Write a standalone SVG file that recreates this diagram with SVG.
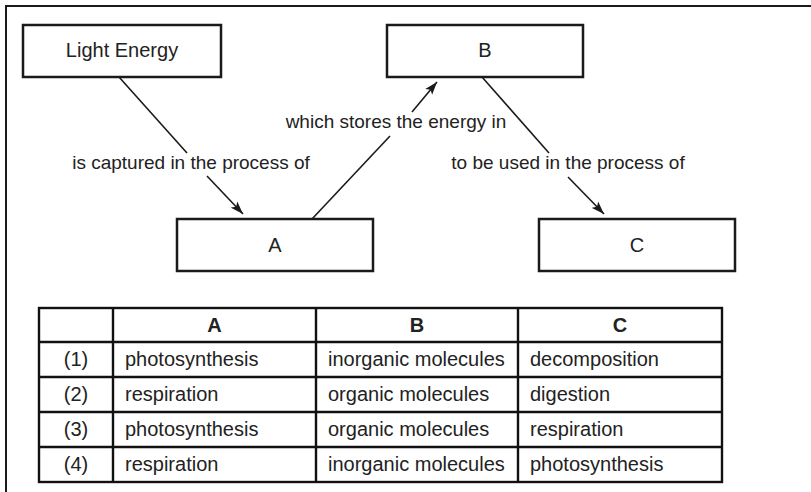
<svg xmlns="http://www.w3.org/2000/svg" width="811" height="492" viewBox="0 0 811 492">
  <defs>
    <marker id="arrow" markerUnits="userSpaceOnUse" markerWidth="14" markerHeight="10" refX="13" refY="5" orient="auto">
      <path d="M0,0.5 L13,5 L0,9.5 L3,5 Z" fill="#1a1a1a"/>
    </marker>
  </defs>
  <style>
    .box { fill: #fff; stroke: #1a1a1a; stroke-width: 2.5; }
    .lbl { font-family: "Liberation Sans", Arial, Helvetica, sans-serif; font-size: 20px; fill: #222; }
    .edge-lbl { font-family: "Liberation Sans", Arial, Helvetica, sans-serif; font-size: 19px; fill: #222; text-anchor: middle; }
    .mid { text-anchor: middle; }
    .conn { stroke: #1a1a1a; stroke-width: 1.6; fill: none; }
    .grid { stroke: #111; stroke-width: 2.4; fill: none; }
    .hdr { font-weight: bold; }
  </style>
  <rect x="0" y="0" width="811" height="492" fill="#fff"/>

  <!-- page frame (top and left rules) -->
  <path d="M6,492 L6,6 L811,6" fill="none" stroke="#1a1a1a" stroke-width="2"/>

  <!-- concept-map nodes -->
  <g id="node-light">
    <rect class="box" x="23" y="25" width="198" height="52"/>
    <text class="lbl mid" x="122" y="57">Light Energy</text>
  </g>
  <g id="node-b">
    <rect class="box" x="387" y="25" width="196" height="52"/>
    <text class="lbl mid" x="485" y="57">B</text>
  </g>
  <g id="node-a">
    <rect class="box" x="177" y="219" width="196" height="52"/>
    <text class="lbl mid" x="275" y="252">A</text>
  </g>
  <g id="node-c">
    <rect class="box" x="539" y="219" width="196" height="52"/>
    <text class="lbl mid" x="637" y="252">C</text>
  </g>

  <!-- connectors, each broken around its label -->
  <g id="connectors">
    <line class="conn" x1="119" y1="77" x2="187" y2="153"/>
    <line class="conn" x1="207" y1="176" x2="243" y2="214" marker-end="url(#arrow)"/>
    <text class="edge-lbl" x="191" y="169">is captured in the process of</text>

    <line class="conn" x1="312" y1="219" x2="390" y2="136"/>
    <line class="conn" x1="412" y1="112" x2="437" y2="82" marker-end="url(#arrow)"/>
    <text class="edge-lbl" x="396" y="128">which stores the energy in</text>

    <line class="conn" x1="482" y1="77" x2="549" y2="153"/>
    <line class="conn" x1="568" y1="177" x2="604" y2="214" marker-end="url(#arrow)"/>
    <text class="edge-lbl" x="568" y="169">to be used in the process of</text>
  </g>

  <!-- answer-choice table -->
  <g id="table">
    <rect class="grid" x="39" y="308" width="683" height="174"/>
    <path class="grid" d="M113,308 V482 M316,308 V482 M518,308 V482 M39,342 H722 M39,377 H722 M39,412 H722 M39,447 H722"/>

    <text class="lbl mid hdr" x="214.5" y="332">A</text>
    <text class="lbl mid hdr" x="417" y="332">B</text>
    <text class="lbl mid hdr" x="620" y="332">C</text>

    <g class="lbl">
      <text class="mid" x="76" y="366">(1)</text>
      <text x="125" y="366">photosynthesis</text>
      <text x="328" y="366">inorganic molecules</text>
      <text x="530" y="366">decomposition</text>

      <text class="mid" x="76" y="401">(2)</text>
      <text x="125" y="401">respiration</text>
      <text x="328" y="401">organic molecules</text>
      <text x="530" y="401">digestion</text>

      <text class="mid" x="76" y="436">(3)</text>
      <text x="125" y="436">photosynthesis</text>
      <text x="328" y="436">organic molecules</text>
      <text x="530" y="436">respiration</text>

      <text class="mid" x="76" y="471">(4)</text>
      <text x="125" y="471">respiration</text>
      <text x="328" y="471">inorganic molecules</text>
      <text x="530" y="471">photosynthesis</text>
    </g>
  </g>
</svg>
